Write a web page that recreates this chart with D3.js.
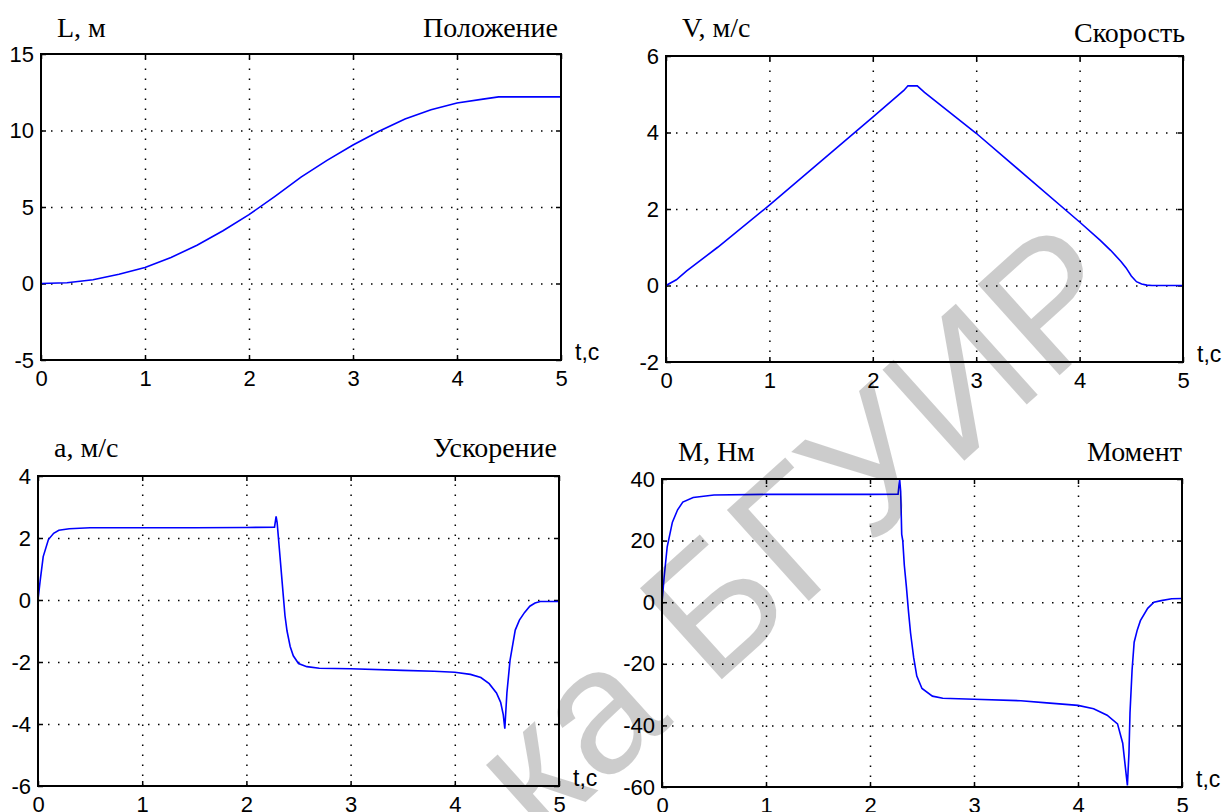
<!DOCTYPE html>
<html>
<head>
<meta charset="utf-8">
<script src="https://cdn.jsdelivr.net/npm/d3@7"></script>
<style>
  body { margin: 0; background: #fff; }
  svg { display: block; }
</style>
</head>
<body>
<script>
// --- data ---
const xTicks = [0, 1, 2, 3, 4, 5];

// position L, m
const tPos = [0, 0.25, 0.5, 0.75, 1, 1.25, 1.5, 1.75, 2, 2.25, 2.5, 2.75, 3, 3.25, 3.5, 3.75, 4, 4.25, 4.4, 4.5, 4.75, 5];
const posL = [0, 0.05, 0.25, 0.6, 1.05, 1.7, 2.5, 3.45, 4.5, 5.7, 6.95, 8.05, 9.05, 9.95, 10.75, 11.35, 11.8, 12.05, 12.2, 12.2, 12.2, 12.2];
const posTicks = [-5, 0, 5, 10, 15];

// velocity V, m/s
const tVel = [0, 0.1, 0.2, 0.5, 1, 1.5, 2, 2.3, 2.34, 2.43, 2.5, 3, 3.5, 4, 4.2, 4.3, 4.4, 4.45, 4.5, 4.55, 4.6, 4.65, 4.7, 5];
const vel = [0, 0.15, 0.38, 1.0, 2.1, 3.25, 4.4, 5.1, 5.22, 5.22, 5.05, 3.98, 2.82, 1.66, 1.18, 0.92, 0.63, 0.46, 0.25, 0.1, 0.04, 0.01, 0, 0];
const velTicks = [-2, 0, 2, 4, 6];

// acceleration a, m/s^2
const tAcc = [0, 0.02, 0.05, 0.1, 0.15, 0.2, 0.3, 0.5, 1, 1.5, 2, 2.27, 2.285, 2.295, 2.305, 2.32, 2.335, 2.355, 2.37, 2.39, 2.42, 2.45, 2.5, 2.58, 2.7, 3, 3.5, 3.8, 4, 4.15, 4.25, 4.33, 4.4, 4.44, 4.465, 4.48, 4.5, 4.53, 4.58, 4.62, 4.67, 4.72, 4.77, 4.82, 4.9, 5];
const acc = [0, 0.6, 1.4, 1.95, 2.15, 2.25, 2.3, 2.33, 2.33, 2.33, 2.34, 2.35, 2.7, 2.5, 2.1, 1.5, 0.9, 0.1, -0.5, -1.0, -1.5, -1.8, -2.05, -2.15, -2.2, -2.22, -2.27, -2.3, -2.33, -2.4, -2.5, -2.7, -3.0, -3.3, -3.7, -4.15, -3.0, -1.95, -0.97, -0.65, -0.4, -0.2, -0.1, -0.05, -0.05, -0.05];
const accTicks = [-6, -4, -2, 0, 2, 4];

// moment M, Nm
const tMom = [0, 0.02, 0.05, 0.1, 0.15, 0.2, 0.3, 0.5, 1, 2, 2.27, 2.285, 2.295, 2.305, 2.315, 2.33, 2.35, 2.37, 2.39, 2.42, 2.45, 2.5, 2.6, 2.7, 3, 3.45, 3.7, 4, 4.15, 4.28, 4.38, 4.43, 4.46, 4.475, 4.49, 4.5, 4.52, 4.54, 4.57, 4.6, 4.67, 4.73, 4.8, 4.9, 5];
const mom = [0, 8, 18, 26, 30, 32.5, 34, 34.8, 35, 35, 35.1, 40, 36, 22, 20, 12, 5, -3, -10, -18, -24, -28, -30.5, -31.2, -31.5, -32, -32.7, -33.5, -34.6, -36.7, -39.5, -45.8, -55, -59.5, -49, -36, -22, -13, -9, -6, -2, 0, 0.5, 1.1, 1.2];
const momTicks = [-60, -40, -20, 0, 20, 40];

const panels = [
  { t: tPos, v: posL, ticks: posTicks, name: 'L, м', title: 'Положение',
    left: 41, top: 54, right: 561, bottom: 360, titleDy: 17, nameDy: 17, titleDx: -3 },
  { t: tVel, v: vel, ticks: velTicks, name: 'V, м/с', title: 'Скорость',
    left: 666, top: 56, right: 1183, bottom: 362, titleDy: 14, nameDy: 19, titleDx: 2 },
  { t: tAcc, v: acc, ticks: accTicks, name: 'a, м/с', title: 'Ускорение',
    left: 38, top: 476, right: 559, bottom: 786, titleDy: 19, nameDy: 19, titleDx: -2 },
  { t: tMom, v: mom, ticks: momTicks, name: 'M, Нм', title: 'Момент',
    left: 662, top: 479, right: 1182, bottom: 787, titleDy: 18, nameDy: 18, titleDx: 0 }
];

const W = 1226, H = 812;
const svg = d3.select('body').append('svg')
  .attr('width', W).attr('height', H);

const tickFont = '"Liberation Sans", Arial, sans-serif';
const serif = '"Liberation Serif", "Times New Roman", serif';

panels.forEach(p => {
  const g = svg.append('g');
  const x = d3.scaleLinear().domain([0, 5]).range([p.left, p.right]);
  const y = d3.scaleLinear().domain(d3.extent(p.ticks)).range([p.bottom, p.top]);
  const w = p.right - p.left, h = p.bottom - p.top;

  // dotted grid
  g.append('g').attr('transform', `translate(0,${p.bottom})`)
    .call(d3.axisBottom(x).tickValues(xTicks.slice(1, -1)).tickSize(-h).tickFormat(''))
    .call(a => a.select('.domain').remove());
  g.append('g').attr('transform', `translate(${p.left},0)`)
    .call(d3.axisLeft(y).tickValues(p.ticks.slice(1, -1)).tickSize(-w).tickFormat(''))
    .call(a => a.select('.domain').remove());
  g.selectAll('.tick line')
    .attr('stroke', '#000')
    .attr('stroke-width', 1.5)
    .attr('stroke-dasharray', '1.5,8.5');

  // inward ticks on all sides
  const tk = 5;
  const sides = [
    [d3.axisBottom(x).tickValues(xTicks), `translate(0,${p.bottom})`],
    [d3.axisTop(x).tickValues(xTicks), `translate(0,${p.top})`],
    [d3.axisLeft(y).tickValues(p.ticks), `translate(${p.left},0)`],
    [d3.axisRight(y).tickValues(p.ticks), `translate(${p.right},0)`]
  ];
  sides.forEach(([ax, tr]) => {
    g.append('g').attr('transform', tr)
      .call(ax.tickSize(-tk).tickFormat(''))
      .call(a => a.select('.domain').remove())
      .selectAll('line').attr('stroke', '#000').attr('stroke-width', 1.5);
  });

  // curve
  const pts = p.t.map((t, i) => [t, p.v[i]]);
  g.append('path')
    .datum(pts)
    .attr('fill', 'none')
    .attr('stroke', '#0000ff')
    .attr('stroke-width', 1.6)
    .attr('d', d3.line().x(d => x(d[0])).y(d => y(d[1])));

  // box
  g.append('rect')
    .attr('x', p.left).attr('y', p.top)
    .attr('width', w).attr('height', h)
    .attr('fill', 'none').attr('stroke', '#000').attr('stroke-width', 2);

  // tick labels
  const yl = g.append('g').attr('transform', `translate(${p.left},0)`)
    .call(d3.axisLeft(y).tickValues(p.ticks).tickSize(0).tickPadding(7).tickFormat(d => String(d)));
  const xl = g.append('g').attr('transform', `translate(0,${p.bottom})`)
    .call(d3.axisBottom(x).tickValues(xTicks).tickSize(0).tickPadding(10).tickFormat(d => String(d)));
  [yl, xl].forEach(a => {
    a.select('.domain').remove();
    a.attr('font-family', null).attr('font-size', null);
    a.selectAll('text')
      .attr('font-family', tickFont)
      .attr('font-size', 22)
      .attr('fill', '#000');
  });

  // titles
  g.append('text')
    .attr('x', p.left + 16).attr('y', p.top - p.nameDy)
    .attr('font-family', serif).attr('font-size', 28)
    .attr('fill', '#000')
    .text(p.name);
  g.append('text')
    .attr('x', p.right + p.titleDx).attr('y', p.top - p.titleDy)
    .attr('text-anchor', 'end')
    .attr('font-family', serif).attr('font-size', 28)
    .attr('fill', '#000')
    .text(p.title);
  g.append('text')
    .attr('x', p.right + 14).attr('y', p.bottom)
    .attr('font-family', tickFont).attr('font-size', 23)
    .attr('fill', '#000')
    .text('t,c');
});

// watermark
svg.append('text')
  .attr('transform', 'translate(540,843) rotate(-42)')
  .attr('font-family', tickFont)
  .attr('font-size', 178)
  .attr('fill', '#000')
  .attr('fill-opacity', 0.2)
  .text('ка БГУИР');
</script>
</body>
</html>
